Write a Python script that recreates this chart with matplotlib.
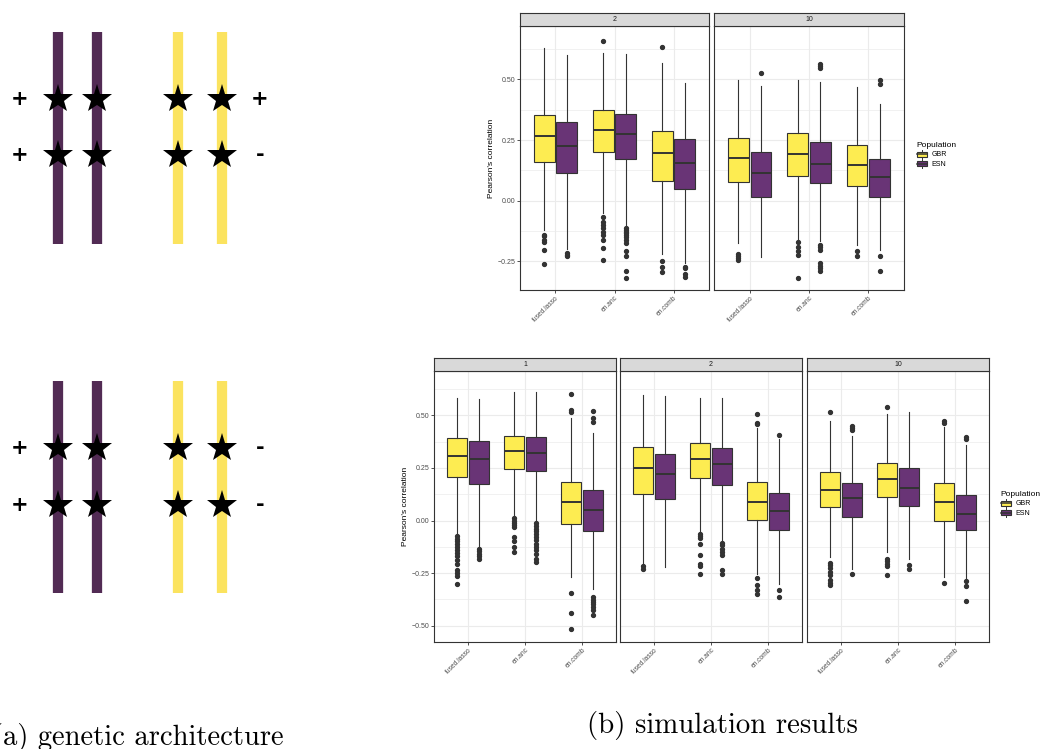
import matplotlib
matplotlib.use('Agg')
import matplotlib.pyplot as plt
from matplotlib.patches import Patch, Rectangle
from matplotlib.lines import Line2D
from matplotlib.legend_handler import HandlerBase
from matplotlib.ticker import FuncFormatter

W, H = 1041, 749

methods = ['fused.lasso', 'en.anc', 'en.comb']
populations = ['GBR', 'ESN']

# five-number summaries per method: lower whisker, Q1, median, Q3, upper whisker
# top figure, facet "2"
t2_gbr = [[-0.120, 0.159, 0.268, 0.353, 0.628],
          [-0.050, 0.202, 0.290, 0.374, 0.610],
          [-0.220, 0.080, 0.196, 0.288, 0.569]]
t2_gbr_out = [[-0.141, -0.147, -0.162, -0.172, -0.203, -0.262],
              [0.657, -0.066, -0.087, -0.100, -0.114, -0.128, -0.141, -0.162, -0.196, -0.245],
              [0.632, -0.249, -0.272, -0.295]]
t2_esn = [[-0.200, 0.113, 0.225, 0.324, 0.600],
          [-0.100, 0.170, 0.275, 0.356, 0.604],
          [-0.258, 0.047, 0.155, 0.253, 0.484]]
t2_esn_out = [[-0.217, -0.222, -0.228],
              [-0.114, -0.121, -0.128, -0.135, -0.141, -0.148, -0.162, -0.173, -0.206, -0.228, -0.288, -0.320],
              [-0.272, -0.279, -0.300, -0.313]]

# top figure, facet "10"
t10_gbr = [[-0.173, 0.077, 0.174, 0.257, 0.497],
           [-0.165, 0.102, 0.194, 0.280, 0.497],
           [-0.183, 0.060, 0.147, 0.229, 0.470]]
t10_gbr_out = [[-0.220, -0.228, -0.238, -0.245],
               [-0.170, -0.190, -0.206, -0.224, -0.317],
               [-0.206, -0.228]]
t10_esn = [[-0.231, 0.015, 0.113, 0.202, 0.471],
           [-0.165, 0.074, 0.151, 0.243, 0.488],
           [-0.203, 0.014, 0.098, 0.172, 0.398]]
t10_esn_out = [[0.526],
               [0.562, 0.555, 0.545, -0.183, -0.192, -0.203, -0.258, -0.268, -0.279, -0.290],
               [0.497, 0.479, -0.228, -0.288]]

# bottom figure, facet "1"
b1_gbr = [[-0.062, 0.208, 0.308, 0.390, 0.581],
          [0.017, 0.244, 0.330, 0.400, 0.610],
          [-0.268, -0.017, 0.089, 0.184, 0.486]]
b1_gbr_out = [[-0.075, -0.086, -0.097, -0.110, -0.125, -0.141, -0.154, -0.170, -0.186, -0.205,
               -0.237, -0.249, -0.262, -0.300],
              [0.010, -0.002, -0.011, -0.022, -0.030, -0.078, -0.097, -0.125, -0.149],
              [0.602, 0.525, 0.513, -0.344, -0.440, -0.514]]
b1_esn = [[-0.125, 0.171, 0.292, 0.376, 0.576],
          [-0.002, 0.233, 0.322, 0.395, 0.610],
          [-0.324, -0.048, 0.048, 0.144, 0.417]]
b1_esn_out = [[-0.137, -0.146, -0.157, -0.170, -0.181],
              [-0.014, -0.027, -0.038, -0.049, -0.062, -0.078, -0.094, -0.110, -0.125, -0.141,
               -0.160, -0.181, -0.197],
              [0.521, 0.489, 0.470, -0.363, -0.376, -0.387, -0.398, -0.411, -0.427, -0.451]]

# bottom figure, facet "2"
b2_gbr = [[-0.205, 0.125, 0.249, 0.348, 0.597],
          [-0.054, 0.200, 0.290, 0.370, 0.581],
          [-0.256, 0.002, 0.089, 0.183, 0.438]]
b2_gbr_out = [[-0.217, -0.229],
              [-0.062, -0.073, -0.081, -0.110, -0.165, -0.205, -0.217, -0.256],
              [0.506, 0.465, 0.459, -0.275, -0.308, -0.332, -0.348]]
b2_esn = [[-0.221, 0.100, 0.219, 0.317, 0.592],
          [-0.097, 0.170, 0.267, 0.346, 0.581],
          [-0.300, -0.046, 0.043, 0.129, 0.386]]
b2_esn_out = [[],
              [-0.106, -0.117, -0.133, -0.149, -0.165, -0.237, -0.252],
              [0.406, -0.329, -0.363]]

# bottom figure, facet "10"
b10_gbr = [[-0.173, 0.062, 0.144, 0.232, 0.473],
           [-0.149, 0.110, 0.195, 0.275, 0.505],
           [-0.268, -0.002, 0.090, 0.179, 0.443]]
b10_gbr_out = [[0.517, -0.202, -0.213, -0.224, -0.244, -0.260, -0.284, -0.295, -0.308],
               [0.541, -0.181, -0.192, -0.205, -0.217, -0.260],
               [0.473, 0.462, -0.297]]
b10_esn = [[-0.229, 0.017, 0.105, 0.179, 0.402],
           [-0.181, 0.070, 0.156, 0.248, 0.513],
           [-0.284, -0.043, 0.033, 0.119, 0.359]]
b10_esn_out = [[0.449, 0.438, 0.430, -0.252],
               [-0.213, -0.229],
               [0.395, 0.386, -0.289, -0.311, -0.383]]

# genetic architecture sketch: chromosome columns and causal-variant effect signs
chrom_purple_x = [58, 97]
chrom_yellow_x = [178, 222]
chrom_rows = [(32, 244), (381, 593)]
star_rows = [(99, 155), (448, 505)]
left_signs = [['+', '+'], ['+', '+']]
right_signs = [['+', '-'], ['-', '-']]

GBR_COL = '#FDEC51'
ESN_COL = '#693476'
EDGE = '#333333'
GRID = '#EBEBEB'
CHROM_PURPLE = '#522B54'
CHROM_YELLOW = '#FBE35F'

plt.rcParams['font.family'] = ['Liberation Sans', 'DejaVu Sans']

fig = plt.figure(figsize=(W / 100, H / 100), dpi=100)


def px_axes(x0, y0, x1, y1):
    return fig.add_axes([x0 / W, 1 - y1 / H, (x1 - x0) / W, (y1 - y0) / H])


class BoxKey(HandlerBase):
    """Legend key drawn as a tiny boxplot (box, median, whisker stubs)."""

    def create_artists(self, legend, orig_handle, xdescent, ydescent, width, height,
                       fontsize, trans):
        x0, y0 = -xdescent, -ydescent
        cx = x0 + width / 2
        box = Rectangle((x0, y0 + height * 0.2), width, height * 0.6,
                        facecolor=orig_handle.get_facecolor(), edgecolor=EDGE,
                        linewidth=0.8, transform=trans)
        med = Line2D([x0, x0 + width], [y0 + height / 2] * 2, color=EDGE, lw=1.1,
                     transform=trans)
        lo = Line2D([cx, cx], [y0, y0 + height * 0.2], color=EDGE, lw=0.7, transform=trans)
        hi = Line2D([cx, cx], [y0 + height * 0.8, y0 + height], color=EDGE, lw=0.7,
                    transform=trans)
        return [lo, hi, box, med]


# sketch + captions on a full-figure pixel canvas
canvas = px_axes(0, 0, W, H)
canvas.set_xlim(0, W)
canvas.set_ylim(H, 0)
canvas.axis('off')

for (ya, yb), (s1, s2), ls, rs in zip(chrom_rows, star_rows, left_signs, right_signs):
    canvas.vlines(chrom_purple_x, ya, yb, colors=CHROM_PURPLE, linewidth=7.4, capstyle='butt')
    canvas.vlines(chrom_yellow_x, ya, yb, colors=CHROM_YELLOW, linewidth=7.4, capstyle='butt')
    for sy in (s1, s2):
        canvas.plot(chrom_purple_x + chrom_yellow_x, [sy] * 4, ls='', marker='*',
                    ms=22, color='black', mew=0)
    for sy, l, r in zip((s1, s2), ls, rs):
        canvas.text(20, sy, l, ha='center', va='center', fontsize=15, fontweight='bold',
                    family='DejaVu Sans')
        canvas.text(260, sy, r, ha='center', va='center', fontsize=15, fontweight='bold',
                    family='DejaVu Sans')

canvas.text(-8, 745, '(a) genetic architecture', ha='left', va='baseline',
            fontsize=20.6, family='cmr10')
canvas.text(722, 733, '(b) simulation results', ha='center', va='baseline',
            fontsize=20.8, family='cmr10')

minus_fmt = FuncFormatter(lambda v, p: f'{v:.2f}'.replace('-', '\u2212'))


def draw_panel(ax, gbr, gbr_out, esn, esn_out, ylim, yticks, yminor, first):
    ax.set_axisbelow(True)
    for stats, outs, off, col in ((gbr, gbr_out, -0.19, GBR_COL), (esn, esn_out, 0.19, ESN_COL)):
        bstats = [dict(whislo=s[0], q1=s[1], med=s[2], q3=s[3], whishi=s[4], fliers=o)
                  for s, o in zip(stats, outs)]
        ax.bxp(bstats, positions=[i + 1 + off for i in range(len(methods))], widths=0.35,
               patch_artist=True, showcaps=False, manage_ticks=False,
               boxprops=dict(facecolor=col, edgecolor=EDGE, linewidth=0.8),
               medianprops=dict(color=EDGE, linewidth=1.4),
               whiskerprops=dict(color=EDGE, linewidth=0.8),
               flierprops=dict(marker='o', markerfacecolor=EDGE, markeredgecolor=EDGE,
                               markersize=2.8))
    ax.set_xlim(0.4, 3.6)
    ax.set_ylim(*ylim)
    ax.set_xticks(range(1, len(methods) + 1))
    ax.set_xticklabels(methods, rotation=45, ha='right', va='top', rotation_mode='anchor',
                       fontsize=4.8, color='#4D4D4D')
    ax.set_yticks(yticks)
    ax.set_yticks(yminor, minor=True)
    ax.yaxis.set_major_formatter(minus_fmt)
    ax.grid(True, which='major', color=GRID, linewidth=0.8)
    ax.grid(True, which='minor', axis='y', color=GRID, linewidth=0.5)
    ax.tick_params(axis='both', which='major', length=2, width=0.6, color=EDGE, pad=1.5)
    ax.tick_params(axis='y', which='minor', length=0)
    ax.tick_params(axis='y', labelsize=5, labelcolor='#4D4D4D')
    if not first:
        ax.tick_params(axis='y', which='major', length=0, labelleft=False)
    for sp in ax.spines.values():
        sp.set_color(EDGE)
        sp.set_linewidth(0.8)


def draw_strip(x0, x1, y0, y1, label):
    s = px_axes(x0, y0, x1, y1)
    s.set_facecolor('#D9D9D9')
    s.set_xticks([])
    s.set_yticks([])
    for sp in s.spines.values():
        sp.set_color(EDGE)
        sp.set_linewidth(0.8)
    s.text(0.5, 0.5, label, ha='center', va='center', fontsize=5, color='#1A1A1A',
           transform=s.transAxes)


legend_handles = [Patch(facecolor=GBR_COL), Patch(facecolor=ESN_COL)]
legend_kw = dict(title='Population', loc='upper left', frameon=False, fontsize=5,
                 title_fontsize=6, handlelength=1.5, handleheight=1.5, handletextpad=0.6,
                 labelspacing=0.15, alignment='left', borderpad=0.2,
                 handler_map={Patch: BoxKey()})

# top figure: facets 2 and 10
top_ylim = (-0.368, 0.72)
top_ticks = [-0.25, 0.0, 0.25, 0.50]
top_minor = [-0.125, 0.125, 0.375, 0.625]
top_panels = [('2', 520, 709, t2_gbr, t2_gbr_out, t2_esn, t2_esn_out),
              ('10', 714, 904, t10_gbr, t10_gbr_out, t10_esn, t10_esn_out)]
for i, (lab, x0, x1, g, go, e, eo) in enumerate(top_panels):
    ax = px_axes(x0, 26, x1, 290)
    draw_panel(ax, g, go, e, eo, top_ylim, top_ticks, top_minor, i == 0)
    draw_strip(x0, x1, 13, 26, lab)
    if i == 0:
        ax.set_ylabel("Pearson's correlation", fontsize=6, labelpad=1.5)
fig.legend(legend_handles, populations, bbox_to_anchor=(912 / W, 1 - 137 / H), **legend_kw)

# bottom figure: facets 1, 2 and 10
bot_ylim = (-0.577, 0.71)
bot_ticks = [-0.50, -0.25, 0.0, 0.25, 0.50]
bot_minor = [-0.375, -0.125, 0.125, 0.375, 0.625]
bot_panels = [('1', 434, 616, b1_gbr, b1_gbr_out, b1_esn, b1_esn_out),
              ('2', 620, 802, b2_gbr, b2_gbr_out, b2_esn, b2_esn_out),
              ('10', 807, 989, b10_gbr, b10_gbr_out, b10_esn, b10_esn_out)]
for i, (lab, x0, x1, g, go, e, eo) in enumerate(bot_panels):
    ax = px_axes(x0, 371, x1, 642)
    draw_panel(ax, g, go, e, eo, bot_ylim, bot_ticks, bot_minor, i == 0)
    draw_strip(x0, x1, 358, 371, lab)
    if i == 0:
        ax.set_ylabel("Pearson's correlation", fontsize=6, labelpad=1.5)
fig.legend(legend_handles, populations, bbox_to_anchor=(996 / W, 1 - 486 / H), **legend_kw)

fig.savefig('out.png', dpi=100)
